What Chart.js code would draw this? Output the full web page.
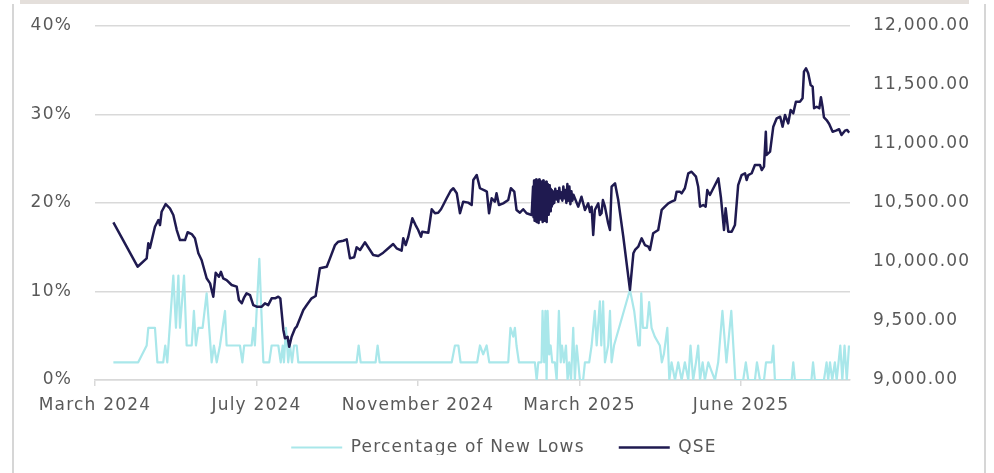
<!DOCTYPE html>
<html>
<head>
<meta charset="utf-8">
<script src="https://cdn.jsdelivr.net/npm/chart.js@4.4.1/dist/chart.umd.min.js"></script>
<style>
  html, body { margin: 0; padding: 0; background: #ffffff; }
  #wrap { position: relative; width: 994px; height: 473px; overflow: hidden; background: #ffffff; }
  #band { position: absolute; left: 20px; top: 0; width: 949px; height: 4px; background: #e4dfdb; }
  #lb { position: absolute; left: 12px; top: 4px; width: 2px; height: 469px; background: #d6d6d6; }
  #rb { position: absolute; left: 984px; top: 4px; width: 2px; height: 469px; background: #d6d6d6; }
  #c { position: absolute; left: 0; top: 0; }
</style>
</head>
<body>
<div id="wrap">
  <div id="band"></div>
  <div id="lb"></div>
  <div id="rb"></div>
  <canvas id="c" width="994" height="473"></canvas>
</div>
<script>
// ---- x axis: trading-session index, one label every 80 sessions ----
const xTickLabels = ['March 2024', 'July 2024', 'November 2024', 'March 2025', 'June 2025'];
const xTickPos = [0, 80, 160, 240, 320];
const xMax = 374;

// ---- QSE index (right axis) ----
const qseX = [
  9.1, 21.1, 25.6, 26.4, 27.2, 29.7, 31.4, 32.2, 33.0, 35.0, 37.1, 38.8, 40.5, 42.1, 44.6, 45.9, 47.9, 49.5,
  51.2, 52.8, 55.3, 57.0, 58.6, 59.8, 61.4, 62.4, 63.5, 65.2, 67.7, 70.2, 71.3, 72.7, 73.9, 75.1, 76.8, 78.4,
  80.1, 82.6, 84.2, 85.8, 87.5, 89.2, 90.8, 91.8, 93.3, 94.1, 95.4, 96.2, 97.4, 99.1, 99.9, 103.2, 104.9,
  107.3, 109.3, 111.4, 114.8, 116.4, 118.9, 120.5, 123.0, 124.7, 126.3, 128.4, 129.6, 131.3, 133.7, 136.2,
  137.8, 140.3, 142.8, 145.3, 147.7, 149.4, 151.9, 152.7, 153.9, 155.2, 157.2, 158.8, 160.1, 161.5, 162.1,
  165.1, 166.8, 168.4, 170.0, 171.4, 172.5, 174.2, 176.2, 177.5, 179.2, 180.8, 182.4, 184.9, 186.6, 187.4,
  189.1, 190.7, 193.2, 194.1, 195.2, 196.5, 198.1, 198.9, 200.1, 202.2, 204.7, 206.0, 207.7, 208.8, 210.5,
  212.1, 213.8, 216.3,
  217.0, 217.25, 217.5, 217.75, 218.0, 218.25, 218.5, 218.75, 219.0, 219.25, 219.5, 219.75,
  220.0, 220.25, 220.5, 220.75, 221.0, 221.25, 221.5, 221.75, 222.0, 222.25, 222.5, 222.75,
  223.0, 223.25, 223.5, 223.75, 224.0, 224.25, 224.5, 224.75, 225.0, 225.25, 225.5, 225.75,
  226.0, 226.25, 226.5, 226.75,
  227.0, 227.5, 228.0, 228.5, 229.0, 229.5, 230.0, 230.5, 231.0, 231.5,
  232.0, 232.5, 233.0, 233.5, 234.0, 234.5, 235.0, 235.5, 236.0, 236.5, 237.0,
  237.7, 239.4, 241.0, 242.7, 244.3, 245.2, 246.0, 246.8, 247.6, 249.3, 250.1, 250.9, 251.6, 252.6, 254.2,
  255.1, 255.9, 257.6, 259.2, 261.7, 265.0, 266.7, 267.5, 269.1, 270.8, 272.4, 274.1, 274.9, 276.5, 279.0,
  280.7, 282.3, 284.0, 285.6, 287.3, 288.1, 289.7, 290.6, 292.2, 293.9, 295.5, 297.7, 298.8, 299.7, 301.3,
  302.5, 303.3, 304.6, 306.3, 308.8, 310.1, 311.6, 312.4, 313.7, 315.4, 317.0, 318.6, 320.3, 322.0, 322.8,
  323.6, 325.3, 326.9, 329.4, 330.3, 331.4, 332.3, 332.7, 334.4, 336.0, 337.7, 339.4, 340.6, 341.8, 343.4,
  344.6, 345.9, 347.2, 349.2, 350.5, 351.2, 352.2, 353.3, 354.5, 355.5, 356.2, 357.5, 358.8, 359.6, 360.4,
  361.1, 362.4, 363.7, 365.4, 367.0, 368.6, 369.8, 371.5, 372.6, 373.6
];
const qseValues = [
  10336, 9960, 10031, 10158, 10119, 10299, 10356, 10313, 10426, 10491, 10455, 10398, 10271, 10186, 10186, 10252, 10237, 10201,
  10074, 10017, 9862, 9819, 9706, 9909, 9875, 9917, 9862, 9847, 9805, 9791, 9678, 9650, 9701, 9735, 9720, 9635,
  9621, 9621, 9650, 9635, 9692, 9692, 9706, 9692, 9424, 9353, 9367, 9282, 9367, 9438, 9452, 9593, 9635,
  9692, 9712, 9947, 9960, 10031, 10144, 10172, 10180, 10192, 10031, 10040, 10124, 10102, 10167, 10102,
  10059, 10051, 10079, 10116, 10152, 10116, 10096, 10201, 10144, 10214, 10370, 10313, 10271, 10214, 10257,
  10248, 10447, 10413, 10418, 10447, 10483, 10540, 10604, 10625, 10582, 10413, 10511, 10503, 10483, 10695,
  10737, 10625, 10604, 10596, 10413, 10540, 10511, 10582, 10483, 10497, 10525, 10625, 10596, 10441, 10418,
  10447, 10413, 10398,
  10640, 10380, 10690, 10350, 10660, 10400, 10700, 10340, 10650, 10420, 10690, 10330,
  10700, 10380, 10640, 10360, 10680, 10400, 10620, 10340, 10690, 10420, 10660, 10350,
  10630, 10380, 10680, 10340, 10660, 10420, 10640, 10400, 10650, 10450, 10620, 10430,
  10610, 10470, 10600, 10490,
  10590, 10500, 10620, 10530, 10600, 10510, 10630, 10540, 10590, 10520,
  10640, 10540, 10610, 10500, 10660, 10520, 10640, 10490, 10600, 10520, 10570,
  10540, 10469, 10553, 10441, 10497, 10424, 10469, 10229, 10441, 10497, 10398, 10413, 10525, 10469, 10328,
  10271, 10638, 10667, 10525, 10214, 9763, 10074, 10102, 10130, 10201, 10144, 10130, 10102, 10243, 10271,
  10441, 10469, 10497, 10511, 10525, 10596, 10596, 10582, 10625, 10752, 10765, 10723, 10638, 10469, 10483,
  10469, 10610, 10568, 10625, 10709, 10540, 10271, 10455, 10257, 10257, 10313, 10652, 10737, 10752, 10695,
  10737, 10752, 10822, 10822, 10780, 10808, 11104, 10907, 10935, 11147, 11218, 11231, 11147, 11246, 11175,
  11288, 11260, 11358, 11358, 11387, 11613, 11641, 11599, 11500, 11486, 11303, 11316, 11303, 11396, 11316,
  11226, 11203, 11170, 11104, 11113, 11125, 11076, 11113, 11119, 11096
];

// ---- Percentage of New Lows (left axis, %) ----
const lowsX = [
  9.1, 21.4, 25.6, 26.4, 29.7, 30.9, 33.8, 34.8, 35.8, 38.8, 40.1, 41.3, 42.1, 44.1, 45.4, 47.9, 49.0, 50.0,
  51.2, 53.3, 55.3, 57.8, 58.9, 60.3, 61.9, 64.4, 65.2, 71.8, 73.0, 73.9, 77.6, 78.4, 79.2, 81.4, 83.4, 86.3,
  87.5, 90.8, 92.0, 93.0, 93.6, 94.6, 95.7, 96.6, 97.6, 98.6, 99.9, 100.7, 129.6, 130.6, 131.6, 139.0, 140.0,
  141.0, 176.7, 178.3, 180.0, 181.1, 189.3, 190.7, 192.3, 194.0, 195.3, 204.7, 205.8, 207.2, 208.0, 208.8,
  210.0, 217.9, 218.8, 219.6, 221.2, 221.7, 222.5, 223.1, 223.7, 224.2, 225.0, 225.7, 226.5, 227.8, 228.7,
  229.8, 230.7, 231.3, 232.3, 233.3, 234.1, 234.9, 235.8, 236.9, 237.7, 238.6, 239.4, 240.2, 241.8, 242.7,
  244.8, 246.0, 247.6, 248.5, 250.1, 250.8, 251.7, 252.6, 254.2, 255.1, 255.9, 257.1, 265.0, 267.1, 269.1,
  269.9, 270.6, 271.4, 273.4, 274.5, 275.7, 277.3, 279.8, 280.8, 281.8, 283.5, 284.5, 285.6, 287.3, 288.9,
  290.6, 292.2, 293.9, 295.0, 296.3, 297.7, 298.8, 299.7, 301.0, 302.1, 303.8, 305.4, 307.1, 308.7, 310.8,
  312.8, 315.2, 317.2, 321.1, 322.4, 323.6, 326.9, 327.9, 329.4, 331.4, 332.4, 335.2, 336.0, 336.8, 345.1,
  345.9, 346.7, 354.9, 355.7, 356.6, 361.1, 362.4, 363.2, 364.1, 365.2, 366.5, 367.4, 369.2, 370.2, 371.3,
  372.4, 373.5
];
const lowsValues = [
  2.0, 2.0, 3.9, 5.9, 5.9, 2.0, 2.0, 3.9, 2.0, 11.8, 5.9, 11.8, 5.9, 11.8, 3.9, 3.9, 7.8, 3.9,
  5.9, 5.9, 9.8, 2.0, 3.9, 2.0, 3.9, 7.8, 3.9, 3.9, 2.0, 3.9, 3.9, 5.9, 3.9, 13.7, 2.0, 2.0,
  3.9, 3.9, 2.0, 3.9, 2.0, 5.9, 2.0, 3.9, 2.0, 3.9, 3.9, 2.0, 2.0, 3.9, 2.0, 2.0, 3.9,
  2.0, 2.0, 3.9, 3.9, 2.0, 2.0, 3.9, 2.9, 3.9, 2.0, 2.0, 5.9, 4.9, 5.9, 3.9,
  2.0, 2.0, 0, 2.0, 2.0, 7.8, 2.0, 7.8, 0, 7.8, 2.9, 3.9, 2.0, 2.0, 0,
  7.8, 2.0, 3.9, 2.0, 3.9, 0, 2.0, 0, 5.9, 0, 3.9, 2.0, 0, 0, 2.0,
  2.0, 3.9, 7.8, 3.9, 8.9, 3.9, 8.9, 2.0, 3.9, 7.8, 2.0, 3.9, 10.2, 7.8, 3.9,
  3.9, 9.8, 5.9, 5.9, 8.8, 5.9, 4.9, 3.9, 2.0, 2.9, 5.9, 0, 2.0, 0, 2.0,
  0, 2.0, 0, 3.9, 0, 2.0, 3.9, 0, 2.0, 0, 2.0, 1.0, 0, 2.0, 7.8,
  2.0, 7.8, 0, 0, 2.0, 0, 0, 2.0, 0, 0, 2.0, 2.0, 3.9, 0, 0,
  2.0, 0, 0, 2.0, 0, 0, 2.0, 0, 2.0, 0, 2.0, 0, 3.9, 0, 3.9,
  0, 3.9
];

// ---- value-axis ticks ----
const pctTicks = [0, 10, 20, 30, 40];
const qseTicks = [9000, 9500, 10000, 10500, 11000, 11500, 12000];

const toPoints = (xs, ys) => xs.map((x, i) => ({ x: x, y: ys[i] }));

const TEXT = '#595959';
const GRID = '#d9d9d9';
const CLEAR = 'rgba(0,0,0,0)';
const FONT = "'DejaVu Sans', 'Liberation Sans', sans-serif";
const SPACING = '1.2px';

Chart.defaults.font.family = FONT;
Chart.defaults.font.size = 17;
Chart.defaults.color = TEXT;

const spacingPlugin = {
  id: 'letterSpacing',
  beforeUpdate(chart) { chart.ctx.letterSpacing = SPACING; },
  beforeDraw(chart) { chart.ctx.letterSpacing = SPACING; }
};

new Chart(document.getElementById('c'), {
  type: 'line',
  data: {
    datasets: [
      {
        label: 'Percentage of New Lows',
        data: toPoints(lowsX, lowsValues),
        yAxisID: 'yPct',
        borderColor: '#a9e7ea',
        backgroundColor: '#a9e7ea',
        borderWidth: 2.2,
        pointRadius: 0,
        tension: 0,
        borderJoinStyle: 'round',
        order: 1
      },
      {
        label: 'QSE',
        data: toPoints(qseX, qseValues),
        yAxisID: 'yQse',
        borderColor: '#1f1a50',
        backgroundColor: '#1f1a50',
        borderWidth: 2.5,
        pointRadius: 0,
        tension: 0,
        borderJoinStyle: 'round',
        order: 0
      }
    ]
  },
  options: {
    responsive: false,
    animation: false,
    devicePixelRatio: 1,
    layout: { padding: { left: 14, right: 0, top: 26, bottom: 18 } },
    plugins: {
      tooltip: { enabled: false },
      legend: {
        position: 'bottom',
        maxHeight: 50,
        labels: {
          usePointStyle: true,
          pointStyle: 'line',
          pointStyleWidth: 51,
          padding: 34,
          color: TEXT,
          font: { size: 17, family: FONT },
          sort: (a, b) => a.datasetIndex - b.datasetIndex
        }
      }
    },
    scales: {
      x: {
        type: 'linear',
        position: 'bottom',
        min: 0,
        max: xMax,
        afterBuildTicks: (scale) => { scale.ticks = xTickPos.map(v => ({ value: v })); },
        afterFit: (scale) => {
          scale.height = 25;
          scale._computeLabelArea = () => undefined;
        },
        grid: { drawOnChartArea: false, drawTicks: true, tickLength: 6, color: GRID, lineWidth: 1.5 },
        border: { display: true, color: GRID, width: 1.5 },
        ticks: {
          autoSkip: false,
          maxRotation: 0,
          padding: 9,
          color: TEXT,
          font: { size: 17 },
          callback: (v) => { const i = xTickPos.indexOf(v); return i >= 0 ? xTickLabels[i] : ''; }
        }
      },
      yPct: {
        type: 'linear',
        position: 'left',
        min: 0,
        max: 40,
        afterBuildTicks: (scale) => { scale.ticks = pctTicks.map(v => ({ value: v })); },
        afterFit: (scale) => { scale.width = 81; },
        grid: { drawTicks: true, tickLength: 20, tickColor: CLEAR, color: GRID, lineWidth: 1.5 },
        border: { display: false },
        ticks: { padding: 3, color: TEXT, font: { size: 17 }, callback: (v) => v + '%' }
      },
      yQse: {
        type: 'linear',
        position: 'right',
        min: 9000,
        max: 12000,
        afterBuildTicks: (scale) => { scale.ticks = qseTicks.map(v => ({ value: v })); },
        afterFit: (scale) => { scale.width = 144; },
        grid: { drawOnChartArea: false, drawTicks: true, tickLength: 20, tickColor: CLEAR },
        border: { display: false },
        ticks: {
          padding: 3,
          color: TEXT,
          font: { size: 17 },
          callback: (v) => v.toLocaleString('en-US', { minimumFractionDigits: 2, maximumFractionDigits: 2 })
        }
      }
    }
  },
  plugins: [spacingPlugin]
});
</script>
</body>
</html>
